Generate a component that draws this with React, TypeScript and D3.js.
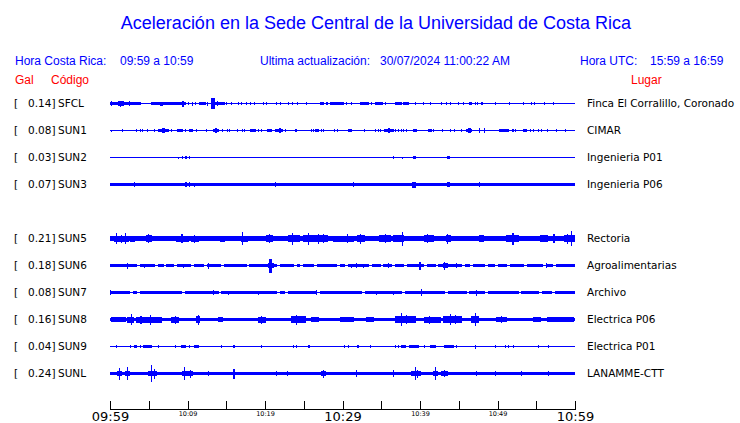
import React from "react";
import * as d3 from "d3";

// ---------- data ----------
const stations = ["SFCL", "SUN1", "SUN2", "SUN3", "SUN5", "SUN6", "SUN7", "SUN8", "SUN9", "SUNL"];
const peakGal = ["0.14", "0.08", "0.03", "0.07", "0.21", "0.18", "0.08", "0.16", "0.04", "0.24"];
const places = [
  "Finca El Corralillo, Coronado", "CIMAR", "Ingenieria P01", "Ingenieria P06", "Rectoria",
  "Agroalimentarias", "Archivo", "Electrica P06", "Electrica P01", "LANAMME-CTT",
];
const rowSlots = [0, 1, 2, 3, 5, 6, 7, 8, 9, 10];
const baseAmp = [0.6, 0.6, 0.5, 1.7, 2.4, 1.4, 1.4, 1.8, 0.5, 1.8];

// events: [startMinute, endMinute, amplitude]  (minutes after 09:59)
const sfclEvents = [
  [0, 3.9, 1.6], [1.1, 1.7, 2.4], [1.4, 1.4, 3], [0.2, 0.2, 2.8], [2.5, 2.5, 2.4], [5.4, 9.7, 1.5],
  [6.5, 6.8, 2.0], [9.3, 9.5, 3],
  [10.1, 10.1, 1.5], [10.6, 10.6, 2], [11.0, 11.0, 1.5], [11.5, 12.3, 1.4], [12.6, 12.6, 2],
  [13.1, 13.5, 5.5], [13.5, 14.8, 1.8], [13.9, 13.9, 2.5], [15.0, 15.0, 1.3], [15.7, 15.7, 1.3], [16.6, 16.6, 1.3],
  [17.0, 17.0, 1.3], [17.6, 17.6, 1.3], [18.1, 18.1, 1.3], [18.7, 18.7, 1.3], [19.8, 19.8, 1.3],
  [20.2, 20.2, 1.3], [21.5, 21.5, 1.3], [22.0, 22.0, 1.3], [23.0, 23.0, 1.3], [23.6, 23.6, 1.3],
  [24.2, 24.2, 1.3], [25.3, 25.3, 1.3], [27.1, 27.5, 1.8], [28.0, 28.0, 1.3], [28.4, 30.1, 1.3],
  [30.5, 30.5, 1.3], [31.1, 31.1, 1.3], [32.3, 33.3, 1.4], [33.8, 33.8, 1.3], [34.2, 35.1, 1.4],
  [35.5, 35.5, 1.3], [36.8, 37.6, 1.3], [37.9, 38.5, 1.3], [39.4, 39.4, 1.3], [40.4, 40.4, 1.3],
  [41.3, 41.3, 1.3], [42.8, 42.8, 1.3], [43.4, 43.4, 1.3], [43.9, 43.9, 1.3], [45.0, 45.0, 1.3],
  [45.6, 45.6, 1.3], [46.4, 46.7, 1.4], [47.1, 47.1, 1.3], [47.4, 47.4, 1.3], [48.0, 48.0, 1.3],
  [49.7, 49.7, 1.3], [51.6, 51.6, 1.3], [53.3, 53.3, 1.2], [54.4, 54.4, 1.5], [54.8, 54.8, 1.2],
  [56.1, 56.1, 1.5], [57.2, 57.2, 1.3],
];
const sun1Events = [
  [0.2, 0.2, 1], [1.6, 1.6, 1.2], [3.4, 3.4, 1.2], [3.9, 3.9, 1.2], [4.2, 4.2, 1.2], [4.9, 4.9, 1.2],
  [5.7, 5.7, 1.2], [6.2, 7.5, 1.4], [6.8, 7.0, 2.2], [7.9, 7.9, 1.2], [8.7, 9.3, 1.4], [9.7, 9.7, 1.2],
  [10.2, 10.6, 1.4], [11.1, 11.1, 1.2], [12.5, 12.5, 1.2], [13.3, 14.0, 1.6], [13.6, 13.8, 2.4],
  [14.5, 14.5, 1.2], [15.2, 15.2, 1.3], [15.4, 15.4, 1.3], [16.4, 16.4, 1.3], [17.1, 17.1, 1.3],
  [17.3, 17.3, 1.3], [18.1, 18.8, 1.4], [19.1, 19.1, 1.2], [19.6, 19.6, 1.2], [20.3, 20.8, 1.4],
  [21.4, 22.2, 1.4], [21.9, 22.0, 2.8], [22.6, 22.6, 1.2], [23.9, 24.1, 1.4], [26.0, 26.0, 1.2],
  [26.2, 26.2, 1.2], [26.5, 26.9, 1.4], [27.3, 27.3, 1.2], [27.5, 27.5, 1.2], [29.0, 29.0, 1.8],
  [29.4, 29.4, 1.2], [30.8, 31.2, 1.4], [32.8, 32.8, 1.2], [34.2, 34.2, 1.2], [34.6, 34.6, 1.2],
  [34.9, 34.9, 1.2], [35.4, 36.6, 1.4], [35.9, 36.1, 2.2], [36.9, 36.9, 1.2], [37.2, 37.2, 1.2],
  [37.6, 37.6, 1.2], [37.9, 37.9, 1.2], [38.2, 38.2, 1.2], [39.1, 39.6, 1.4], [41.1, 41.5, 1.4],
  [41.8, 41.8, 1.2], [42.9, 42.9, 1.2], [43.9, 43.9, 1.2], [44.5, 44.5, 1.2], [45.4, 45.4, 1.2],
  [46.0, 46.7, 1.6], [46.3, 46.5, 2.4], [47.7, 47.7, 2.8], [48.3, 48.3, 2.8], [50.3, 51.4, 1.4],
  [52.0, 52.0, 1.2], [52.3, 52.3, 1.2], [53.3, 53.7, 1.6], [54.2, 54.2, 1.2], [54.6, 54.6, 1.2],
  [55.3, 55.3, 1.2], [55.7, 55.7, 1.2], [56.4, 56.4, 1.2], [57.6, 57.6, 1.2], [58.8, 58.8, 1.2],
];
const sun2Events = [
  [8.9, 8.9, 1], [9.3, 9.3, 1.2], [9.7, 9.9, 1.3], [10.3, 10.3, 1.2], [11.3, 11.3, 0.9],
  [36.6, 36.6, 1.6], [37.7, 37.7, 1], [39.1, 39.4, 1.4], [43.5, 43.8, 1.4], [56.7, 56.7, 0.9],
];
const sun3Events = [
  [3.2, 3.2, 2.6], [9.7, 9.9, 2.6], [10.3, 10.3, 2.6], [10.9, 10.9, 2], [21.3, 21.3, 2.3],
  [31.4, 31.4, 2.2], [39.0, 39.4, 3.0], [43.5, 43.8, 2.6], [47.7, 47.7, 2.2],
];
const sun5Events = [
  [0.6, 2.4, 3.0], [0.9, 0.9, 5.5], [1.5, 1.5, 4], [2.0, 2.0, 5.5], [2.6, 3.2, 3.0], [4.7, 5.4, 3.4],
  [5.0, 5.0, 4.5], [8.6, 10.1, 3.0], [9.2, 9.3, 4.5], [10.5, 11.4, 3.0], [10.9, 10.9, 4], [12.5, 13.5, 2.9],
  [14.2, 14.8, 3.0], [17.0, 17.8, 3.0], [17.1, 17.1, 6.5], [20.2, 21.0, 3.2], [20.6, 20.6, 4.2],
  [23.0, 24.4, 3.2], [23.6, 23.6, 6], [25.0, 26.5, 3.3], [25.6, 25.6, 6], [26.5, 28.0, 3.2],
  [26.9, 26.9, 5], [27.6, 27.6, 4.5], [28.8, 30.0, 3.0], [29.7, 31.4, 3.0], [30.6, 30.6, 4.2], [32.0, 32.8, 3.3], [32.3, 32.3, 5],
  [34.8, 36.2, 3.3], [35.5, 35.5, 4.5], [36.6, 37.9, 3.4], [37.8, 37.8, 7], [40.6, 41.8, 3.2], [41.0, 41.0, 4.3],
  [43.4, 43.9, 3.6], [43.6, 43.6, 5], [47.7, 48.2, 3.2], [51.2, 52.7, 3.6], [52.0, 52.0, 6], [55.5, 56.4, 3.2],
  [57.2, 57.4, 4.5], [58.6, 60, 3.6], [59.0, 59.0, 5], [59.6, 59.6, 7.5],
];
const sun6Events = [
  [2.2, 2.2, 3], [4.5, 4.5, 2], [9.5, 9.5, 2], [12.7, 12.7, 3], [20.4, 21.1, 2.2], [20.6, 20.8, 7],
  [31.2, 31.2, 2], [31.8, 31.8, 2.2], [32.7, 32.7, 2], [35.9, 35.9, 2.2], [40.0, 40.0, 4],
  [43.0, 43.6, 2.5], [43.2, 43.2, 4], [44.7, 44.7, 2.5], [56.3, 56.3, 2.5],
];
const sun7Events = [
  [0, 0, 2.2], [13.3, 13.3, 2.2], [15.3, 15.3, 2], [19.2, 19.2, 2], [26.7, 26.7, 2.2],
  [34.4, 34.4, 2], [36.6, 36.6, 2], [40.2, 40.2, 3.7], [47.3, 47.3, 3],
];
const sun8Events = [
  [0.2, 2.0, 2.4], [2.2, 3.0, 3.0], [2.8, 2.8, 5.3], [3.4, 6.7, 3.0], [4.0, 4.0, 4], [5.2, 5.2, 5], [8.0, 8.8, 3.0],
  [8.4, 8.4, 4], [11.2, 11.6, 3.2], [11.4, 11.4, 5], [14.0, 14.5, 2.5], [19.2, 20.0, 3.0], [19.6, 19.6, 4],
  [23.4, 25.2, 3.2], [24.1, 24.1, 5], [26.0, 26.9, 2.5], [29.7, 31.4, 2.5], [33.1, 34.0, 2.5], [36.8, 39.4, 3.3],
  [37.6, 37.6, 6.7], [38.3, 38.3, 4.5], [40.6, 42.6, 3.0], [41.2, 41.2, 4], [43.0, 45.4, 3.6],
  [43.9, 43.9, 5.5], [44.6, 44.6, 4.5], [46.7, 47.5, 3.4],
  [47.1, 47.1, 6.5], [49.9, 51.2, 2.8], [50.5, 50.5, 3.8], [54.6, 55.5, 2.5], [56.4, 59.8, 2.2],
];
const sun9Events = [
  [0.9, 0.9, 1.3], [2.6, 2.6, 1.3], [3.2, 3.4, 1.3], [3.9, 3.9, 1.3], [4.3, 5.2, 1.4], [5.4, 5.4, 1.3],
  [6.2, 6.2, 1.3], [8.4, 8.4, 1.3], [9.2, 9.8, 1.4], [10.3, 10.3, 1.3], [10.9, 11.4, 1.4],
  [14.4, 14.4, 1.3], [16.0, 16.0, 1.3], [19.6, 19.6, 1.3], [23.7, 23.7, 1.3], [24.1, 24.1, 1.3],
  [25.6, 25.6, 1.3], [25.8, 25.8, 1.3], [30.3, 30.3, 1.3], [30.8, 30.8, 1.3], [32.0, 32.0, 1.3],
  [33.6, 33.6, 1.3], [36.8, 36.8, 1.3], [37.2, 37.2, 1.3], [37.6, 38.1, 1.3], [38.7, 39.8, 1.4],
  [40.6, 40.6, 1.3], [41.3, 42.0, 1.4], [43.2, 44.3, 1.7], [44.7, 44.7, 1.3], [47.1, 47.1, 2],
  [49.7, 49.7, 1.3], [51.0, 51.0, 1.3], [51.4, 51.4, 1.3], [52.1, 52.1, 1.3], [55.3, 55.3, 1.3],
  [56.6, 56.6, 1.3],
];
const sunlEvents = [
  [1.0, 1.5, 2.5], [1.2, 1.2, 6], [2.0, 2.5, 2.6], [2.2, 2.2, 6.5], [5.0, 6.0, 2.8], [5.4, 5.4, 8.7],
  [5.8, 5.8, 5], [9.3, 10.6, 2.4], [9.6, 9.6, 6.5], [10.4, 10.4, 4], [12.7, 12.7, 2.2],
  [16.0, 16.0, 5], [21.5, 21.5, 2.5], [22.9, 22.9, 2.5], [27.3, 27.8, 2.3], [27.5, 27.5, 4],
  [31.8, 31.8, 3.5], [36.6, 36.6, 3.5], [38.9, 40.0, 2.4], [39.4, 39.4, 6.5], [39.7, 39.7, 4],
  [41.8, 42.3, 2.6], [42.0, 42.0, 6.5], [42.8, 43.6, 2.8], [43.2, 43.2, 3.5], [47.3, 47.3, 2.5], [49.7, 49.7, 2.5],
  [53.1, 53.1, 2.5], [56.6, 56.6, 2.5],
];
const sun6Gaps = [3.7, 6.0, 7.1, 8.4, 10.6, 12.3, 14.5, 17.8, 21.7, 23.9, 24.7, 26.5, 29.5, 30.5, 33.6,
  35.1, 36.6, 38.1, 40.7, 42.2, 45.6, 46.7, 48.6, 49.9, 51.4, 53.6, 56.1, 57.4];
const sun7Gaps = [2.8, 3.7, 9.5, 14.2, 21.7, 22.8, 26.9, 32.7, 37.9, 43.4, 46.2, 48.6, 52.9, 55.5, 57.2];

const traceEvents = [sfclEvents, sun1Events, sun2Events, sun3Events, sun5Events, sun6Events,
  sun7Events, sun8Events, sun9Events, sunlEvents];
const traceGaps = [[], [], [], [], [], sun6Gaps, sun7Gaps, [], [], []];

const tickMinutes = [0, 5, 10, 15, 20, 25, 30, 35, 40, 45, 50, 55, 60];
const tickLabels = [
  { m: 0, text: "09:59", big: true }, { m: 10, text: "10:09", big: false },
  { m: 20, text: "10:19", big: false }, { m: 30, text: "10:29", big: true },
  { m: 40, text: "10:39", big: false }, { m: 50, text: "10:49", big: false },
  { m: 60, text: "10:59", big: true },
];

// ---------- layout ----------
const W = 740, H = 423;
const BLUE = "#0000ff";
const RED = "#ff0000";

export default function App() {
  const x = d3.scaleLinear().domain([0, 60]).range([110, 575]);
  const row = d3.scaleLinear().domain([0, 10]).range([103.5, 373.5]);
  const amp = d3.scaleLinear().domain([0, 10]).range([0, 10]);

  const tracePath = (i: number) => {
    const c = row(rowSlots[i]);
    const ev = traceEvents[i];
    const gaps = traceGaps[i];
    const [px0, px1] = x.range();
    let d = "";
    for (let px = px0; px < px1; px++) {
      const t0 = x.invert(px), t1 = x.invert(px + 1);
      let a = baseAmp[i];
      for (const g of gaps) if (g - 0.12 <= t1 && g + 0.12 >= t0) a = 0.5;
      for (const e of ev) if (e[0] <= t1 && e[1] >= t0) a = Math.max(a, e[2]);
      const h = Math.max(0.5, amp(a));
      const top = Math.round(c - h);
      let bot = Math.round(c + h);
      if (bot <= top) bot = top + 1;
      d += `M${px},${top}h1V${bot}h-1Z`;
    }
    return d;
  };

  return (
    <svg width={W} height={H} style={{ display: "block", position: "absolute", left: 0, top: 0 }}>
      <rect width={W} height={H} fill="#fff" />
      <text x={376} y={29} textAnchor="middle" fill={BLUE}
        style={{ fontFamily: "Liberation Sans", fontSize: 18 }}>
        Aceleración en la Sede Central de la Universidad de Costa Rica
      </text>
      <g style={{ fontFamily: "Liberation Sans", fontSize: 12 }} fill={BLUE}>
        <text x={15} y={64.5}>Hora Costa Rica:</text>
        <text x={120} y={64.5}>09:59 a 10:59</text>
        <text x={260} y={64.5}>Ultima actualización:</text>
        <text x={380} y={64.5}>30/07/2024 11:00:22 AM</text>
        <text x={580} y={64.5}>Hora UTC:</text>
        <text x={650} y={64.5}>15:59 a 16:59</text>
      </g>
      <g style={{ fontFamily: "Liberation Sans", fontSize: 12 }} fill={RED}>
        <text x={15} y={84}>Gal</text>
        <text x={51} y={84}>Código</text>
        <text x={631} y={84}>Lugar</text>
      </g>
      <g style={{ fontFamily: "DejaVu Sans", fontSize: 10.5 }} fill="#000">
        {stations.map((s, i) => {
          const c = row(rowSlots[i]);
          return (
            <g key={s}>
              <text x={14} y={c + 3.5}>[</text>
              <text x={55.5} y={c + 3.5} textAnchor="end">{peakGal[i] + "]"}</text>
              <text x={58} y={c + 3.5}>{s}</text>
              <text x={587} y={c + 3.5}>{places[i]}</text>
            </g>
          );
        })}
      </g>
      <g fill={BLUE} shapeRendering="crispEdges">
        {stations.map((s, i) => <path key={s} d={tracePath(i)} />)}
      </g>
      <g shapeRendering="crispEdges" stroke="#000" strokeWidth={1}>
        <line x1={x(0)} x2={x(60) + 1} y1={409.5} y2={409.5} />
        {tickMinutes.map((m) => (
          <line key={m} x1={Math.round(x(m)) + 0.5} x2={Math.round(x(m)) + 0.5} y1={401} y2={410} />
        ))}
      </g>
      <g fill="#000">
        {tickLabels.map((l) => (
          <text key={l.m} x={x(l.m) + 0.5} y={l.big ? 421 : 416} textAnchor="middle"
            style={{ fontFamily: "DejaVu Sans", fontSize: l.big ? 13 : 6.5 }}>
            {l.text}
          </text>
        ))}
      </g>
    </svg>
  );
}
